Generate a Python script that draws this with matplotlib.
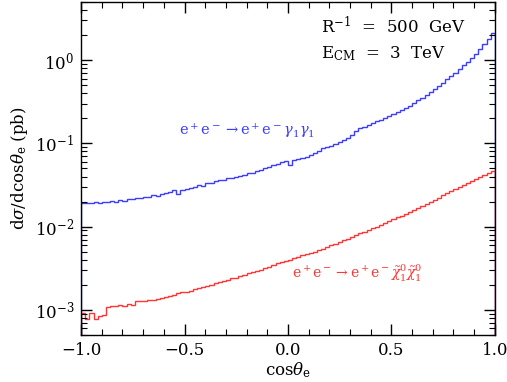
import numpy as np
import matplotlib
matplotlib.use('Agg')
import matplotlib.pyplot as plt
from matplotlib.ticker import LogLocator, MultipleLocator, NullFormatter

# cos(theta_e) bin edges: 100 bins from -1 to 1
edges = np.linspace(-1.0, 1.0, 101)

# d sigma / d cos theta_e (pb), e+e- -> e+e- gamma1 gamma1
kk_photon = [
    0.0193, 0.0191, 0.0191, 0.0197, 0.0191, 0.0200, 0.0197, 0.0204, 0.0200, 0.0209,
    0.0204, 0.0214, 0.0216, 0.0219, 0.0224, 0.0226, 0.0229, 0.0237, 0.0234, 0.0245,
    0.0251, 0.0260, 0.0275, 0.0245, 0.0275, 0.0285, 0.0295, 0.0302, 0.0313, 0.0309,
    0.0331, 0.0339, 0.0351, 0.0363, 0.0359, 0.0380, 0.0389, 0.0398, 0.0407, 0.0422,
    0.0437, 0.0447, 0.0462, 0.0479, 0.0501, 0.0519, 0.0550, 0.0562, 0.0603, 0.0610,
    0.0543, 0.0624, 0.0646, 0.0661, 0.0692, 0.0724, 0.0776, 0.0813, 0.0871, 0.0912,
    0.0933, 0.0977, 0.1035, 0.1096, 0.1175, 0.127, 0.141, 0.153, 0.158, 0.166,
    0.174, 0.184, 0.193, 0.202, 0.214, 0.224, 0.240, 0.254, 0.269, 0.285,
    0.305, 0.331, 0.355, 0.380, 0.412, 0.447, 0.490, 0.537, 0.589, 0.646,
    0.708, 0.776, 0.871, 0.955, 1.07, 1.20, 1.35, 1.55, 1.78, 2.09,
]

# e+e- -> e+e- neutralino1 neutralino1
susy_neutralino = [
    9.12e-4, 7.76e-4, 9.12e-4, 7.76e-4, 8.51e-4, 8.71e-4, 1.07e-3, 1.10e-3, 1.12e-3, 1.15e-3,
    1.12e-3, 1.17e-3, 1.15e-3, 1.29e-3, 1.29e-3, 1.29e-3, 1.30e-3, 1.33e-3, 1.36e-3, 1.40e-3,
    1.45e-3, 1.46e-3, 1.51e-3, 1.58e-3, 1.62e-3, 1.66e-3, 1.70e-3, 1.78e-3, 1.82e-3, 1.88e-3,
    1.95e-3, 2.00e-3, 2.09e-3, 2.16e-3, 2.24e-3, 2.29e-3, 2.40e-3, 2.45e-3, 2.57e-3, 2.66e-3,
    2.75e-3, 2.82e-3, 2.95e-3, 3.05e-3, 3.16e-3, 3.31e-3, 3.43e-3, 3.63e-3, 3.76e-3, 3.89e-3,
    4.03e-3, 4.17e-3, 4.32e-3, 4.52e-3, 4.68e-3, 4.84e-3, 5.01e-3, 5.25e-3, 5.43e-3, 5.69e-3,
    5.96e-3, 6.24e-3, 6.46e-3, 6.84e-3, 7.16e-3, 7.59e-3, 7.94e-3, 8.32e-3, 8.71e-3, 9.12e-3,
    9.55e-3, 0.0100, 0.0106, 0.0111, 0.0116, 0.0123, 0.0129, 0.0136, 0.0143, 0.0151,
    0.0160, 0.0168, 0.0178, 0.0188, 0.0200, 0.0211, 0.0224, 0.0237, 0.0251, 0.0266,
    0.0282, 0.0299, 0.0316, 0.0335, 0.0355, 0.0376, 0.0398, 0.0422, 0.0447, 0.0468,
]

plt.rcParams['font.family'] = ['DejaVu Serif']
plt.rcParams['mathtext.fontset'] = 'dejavuserif'
plt.rcParams['font.size'] = 10

fig = plt.figure(figsize=(5.07, 3.82), dpi=100)
ax = fig.add_axes([0.160, 0.123, 0.816, 0.872])

ax.stairs(kk_photon, edges, color='#3c3cff', linewidth=1.0)
ax.stairs(susy_neutralino, edges, color='#ff3434', linewidth=1.0)

ax.set_yscale('log')
ax.set_xlim(-1.0, 1.0)
ax.set_ylim(5e-4, 5.0)

ax.xaxis.set_major_locator(MultipleLocator(0.5))
ax.xaxis.set_minor_locator(MultipleLocator(0.1))
ax.xaxis.set_major_formatter(plt.FuncFormatter(lambda v, p: f'{v:.1f}'.replace('-', '\u2212')))
ax.yaxis.set_major_locator(LogLocator(base=10, numticks=10))
ax.yaxis.set_minor_locator(LogLocator(base=10, subs=np.arange(2, 10), numticks=20))
ax.yaxis.set_minor_formatter(NullFormatter())

ax.tick_params(which='both', direction='in', top=True, right=True, labelsize=12)
ax.tick_params(which='major', length=8, width=1.0, pad=5)
ax.tick_params(which='minor', length=4, width=0.8)
for s in ax.spines.values():
    s.set_linewidth(1.0)

ax.set_xlabel(r'cos$\theta_{\rm e}$', fontsize=12, labelpad=1)
ax.set_ylabel(r'd$\sigma$/dcos$\theta_{\rm e}$ (pb)', fontsize=12, labelpad=3)

ax.text(0.58, 0.925, r'R$^{-1}$  =  500  GeV', transform=ax.transAxes, fontsize=12, va='center')
ax.text(0.58, 0.845, r'E$_{\rm CM}$  =  3  TeV', transform=ax.transAxes, fontsize=12, va='center')

ax.text(0.236, 0.615, r'e$^+$e$^-$$\rightarrow$e$^+$e$^-$$\gamma_1\gamma_1$',
        transform=ax.transAxes, fontsize=10.5, color='#3c3cff', va='center')
ax.text(0.51, 0.185, r'e$^+$e$^-$$\rightarrow$e$^+$e$^-$$\tilde{\chi}^0_1\tilde{\chi}^0_1$',
        transform=ax.transAxes, fontsize=10, color='#ff3434', va='center')

fig.savefig('out.png', dpi=100)
